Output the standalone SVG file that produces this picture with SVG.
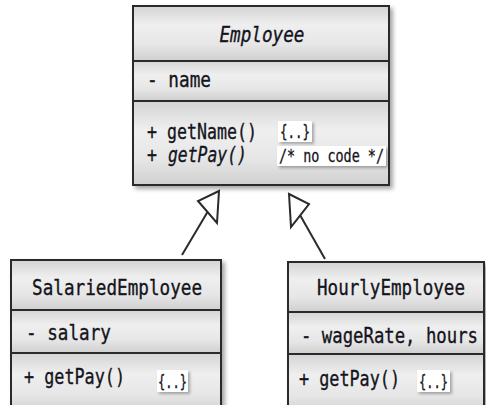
<svg xmlns="http://www.w3.org/2000/svg" width="486" height="405" viewBox="0 0 486 405">
  <defs>
    <linearGradient id="glass" x1="0" y1="0" x2="0" y2="1">
      <stop offset="0" stop-color="#d4d4d4"/>
      <stop offset="0.35" stop-color="#efefef"/>
      <stop offset="0.7" stop-color="#e6e6e6"/>
      <stop offset="1" stop-color="#cfcfcf"/>
    </linearGradient>
    <filter id="shadow" x="-10%" y="-10%" width="125%" height="125%">
      <feDropShadow dx="3" dy="3" stdDeviation="2" flood-color="#000" flood-opacity="0.35"/>
    </filter>
    <filter id="tagShadow" x="-20%" y="-20%" width="150%" height="160%">
      <feDropShadow dx="2" dy="2" stdDeviation="1.5" flood-color="#000" flood-opacity="0.3"/>
    </filter>
  </defs>
  <style>
    .comp { fill: url(#glass); stroke: #2b2b2b; stroke-width: 2; }
    .txt { font-family: "DejaVu Sans Mono", "Liberation Mono", monospace; font-size: 22px; fill: #14141c; stroke: #14141c; stroke-width: 0.35; }
    .it { font-style: italic; }
    .tag { fill: #ffffff; }
    .tagtxt { font-family: "DejaVu Sans Mono", "Liberation Mono", monospace; font-size: 17px; fill: #14141c; stroke: #14141c; stroke-width: 0.3; }
    .edge { fill: none; stroke: #2b2b2b; stroke-width: 2; }
    .head { fill: #ffffff; stroke: #2b2b2b; stroke-width: 2; stroke-linejoin: miter; }
  </style>

  <rect width="486" height="405" fill="#ffffff"/>

  <!-- Employee (abstract base class) -->
  <g id="employee">
    <g filter="url(#shadow)">
      <rect class="comp" x="133" y="6" width="256" height="55"/>
      <rect class="comp" x="133" y="61" width="256" height="40"/>
      <rect class="comp" x="133" y="101" width="256" height="84"/>
    </g>
    <text class="txt it" x="262" y="42" text-anchor="middle" textLength="85" lengthAdjust="spacingAndGlyphs">Employee</text>
    <text class="txt" x="147" y="87" textLength="64" lengthAdjust="spacingAndGlyphs">- name</text>
    <text class="txt" x="147" y="139" textLength="110" lengthAdjust="spacingAndGlyphs">+ getName()</text>
    <text class="txt" x="147" y="162" textLength="10" lengthAdjust="spacingAndGlyphs">+</text>
    <text class="txt it" x="168" y="162" textLength="79" lengthAdjust="spacingAndGlyphs">getPay()</text>
    <g filter="url(#tagShadow)">
      <rect class="tag" x="278" y="121" width="34" height="21"/>
      <rect class="tag" x="277" y="146" width="109" height="20"/>
    </g>
    <text class="tagtxt" x="280" y="138" textLength="30" lengthAdjust="spacingAndGlyphs">{..}</text>
    <text class="tagtxt" x="279" y="162" textLength="105" lengthAdjust="spacingAndGlyphs">/* no code */</text>
  </g>

  <!-- SalariedEmployee -->
  <g id="salaried-employee">
    <g filter="url(#shadow)">
      <rect class="comp" x="11" y="260" width="210" height="50"/>
      <rect class="comp" x="11" y="310" width="210" height="43"/>
      <rect class="comp" x="11" y="353" width="210" height="60"/>
    </g>
    <text class="txt" x="117" y="295" text-anchor="middle" textLength="170" lengthAdjust="spacingAndGlyphs">SalariedEmployee</text>
    <text class="txt" x="26" y="340" textLength="85" lengthAdjust="spacingAndGlyphs">- salary</text>
    <text class="txt" x="24" y="384" textLength="101" lengthAdjust="spacingAndGlyphs">+ getPay()</text>
    <g filter="url(#tagShadow)">
      <rect class="tag" x="157" y="370" width="31" height="22"/>
    </g>
    <text class="tagtxt" x="158" y="388" textLength="29" lengthAdjust="spacingAndGlyphs">{..}</text>
  </g>

  <!-- HourlyEmployee -->
  <g id="hourly-employee">
    <g filter="url(#shadow)">
      <rect class="comp" x="288" y="262" width="196" height="50"/>
      <rect class="comp" x="288" y="312" width="196" height="42"/>
      <rect class="comp" x="288" y="354" width="196" height="60"/>
    </g>
    <text class="txt" x="391" y="295" text-anchor="middle" textLength="148" lengthAdjust="spacingAndGlyphs">HourlyEmployee</text>
    <text class="txt" x="301" y="343" textLength="177" lengthAdjust="spacingAndGlyphs">- wageRate, hours</text>
    <text class="txt" x="299" y="386" textLength="101" lengthAdjust="spacingAndGlyphs">+ getPay()</text>
    <g filter="url(#tagShadow)">
      <rect class="tag" x="417" y="370" width="33" height="22"/>
    </g>
    <text class="tagtxt" x="419" y="388" textLength="29" lengthAdjust="spacingAndGlyphs">{..}</text>
  </g>

  <!-- generalization connectors (hollow triangle heads) -->
  <g id="connectors">
    <line class="edge" x1="182" y1="255" x2="207.5" y2="212"/>
    <polygon class="head" points="219,191 198,201 217,223"/>
    <line class="edge" x1="325" y1="259" x2="300" y2="215"/>
    <polygon class="head" points="289,194 309,204 291,227"/>
  </g>
</svg>
